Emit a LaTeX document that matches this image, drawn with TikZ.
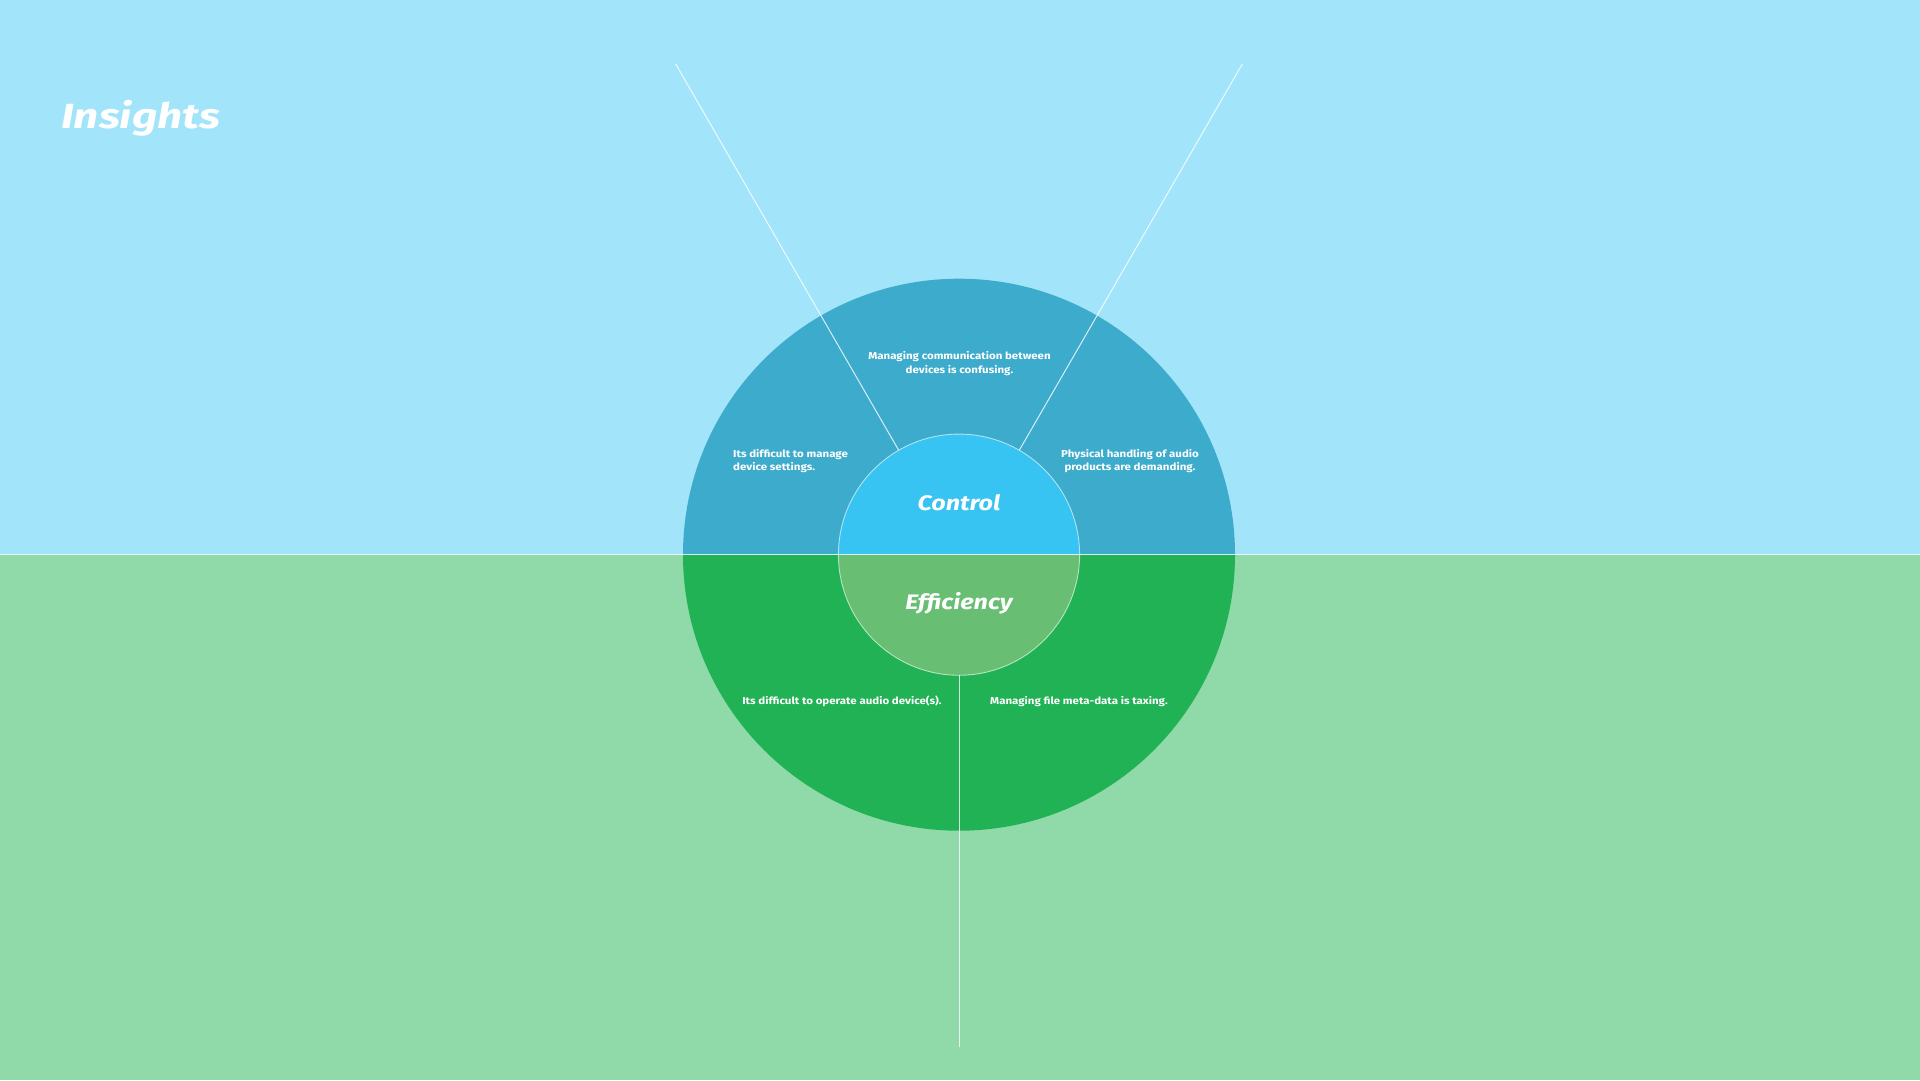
\documentclass[tikz,border=0pt]{standalone}
\usepackage{fontspec}
\usetikzlibrary{calc}
\setmainfont{Fira Sans}
\newfontfamily\smallfam[FakeStretch=1.15]{Fira Sans}
\newfontfamily\corefam[FakeStretch=1.2]{Fira Sans}
\newfontfamily\titlefam[FakeStretch=1.26]{Fira Sans}
\definecolor{sky}{RGB}{162,228,250}
\definecolor{meadow}{RGB}{143,218,168}
\definecolor{ringblue}{RGB}{61,171,203}
\definecolor{coreblue}{RGB}{56,196,242}
\definecolor{ringgreen}{RGB}{32,178,84}
\definecolor{coregreen}{RGB}{104,191,115}
\tikzset{
  divider/.style={draw=white, line width=1pt, opacity=0.8},
  rim/.style={draw=white, line width=0.9pt, opacity=0.6},
  small/.style={text=white, font=\smallfam\fontsize{10}{13.3}\selectfont\bfseries, inner sep=0pt},
  core/.style={text=white, font=\corefam\fontsize{21}{24}\selectfont\bfseries\itshape, inner sep=0pt},
  title/.style={text=white, font=\titlefam\fontsize{35}{40}\selectfont\bfseries\itshape, inner sep=0pt}
}
\begin{document}
\begin{tikzpicture}[x=1pt,y=1pt]
\useasboundingbox (0,0) rectangle (1920,1080);
\fill[sky] (0,525.3) rectangle (1920,1080);
\fill[meadow] (0,0) rectangle (1920,525.3);
\coordinate (c) at (959,525.3);
% outer ring
\fill[ringblue] ($(c)+(276,0)$) arc[start angle=0,end angle=180,radius=276] -- cycle;
\fill[ringgreen] ($(c)+(-276,0)$) arc[start angle=180,end angle=360,radius=276] -- cycle;
% inner discs
\fill[coreblue] ($(c)+(120.6,0)$) arc[start angle=0,end angle=180,radius=120.6] -- cycle;
\fill[coregreen] ($(c)+(-120.6,0)$) arc[start angle=180,end angle=360,radius=120.6] -- cycle;
% dividers
\draw[divider] (0,525.3) -- (1920,525.3);
\draw[rim] (c) circle[radius=120.6];
\coordinate (ul0) at ($(c)+(120:120.6)$);
\coordinate (ul1) at ($(c)+(120:567)$);
\coordinate (ur0) at ($(c)+(60:120.6)$);
\coordinate (ur1) at ($(c)+(60:567)$);
\coordinate (b0) at ($(c)+(270:120.6)$);
\coordinate (b1) at ($(c)+(270:492)$);
\draw[divider] (ul0) -- (ul1);
\draw[divider] (ur0) -- (ur1);
\draw[divider] (b0) -- (b1);
% texts
\node[title, anchor=west] (ins) at (61,961.5) {Insights};
\node[core] (ctl) at (959,577.3) {Control};
\node[core] (eff) at (959,477) {Efficiency};
\node[small, align=center] (t1) at (959.5,716.3) {Managing communication between\\devices is confusing.};
\node[small, align=left, anchor=west] (t2) at (733,619) {Its difficult to manage\\device settings.};
\node[small, align=center] (t3) at (1130,619) {Physical handling of audio\\ products are demanding.};
\node[small] (t4) at (842,378.8) {Its difficult to operate audio device(s).};
\node[small] (t5) at (1079,378.8) {Managing file meta-data is taxing.};
\end{tikzpicture}
\end{document}
